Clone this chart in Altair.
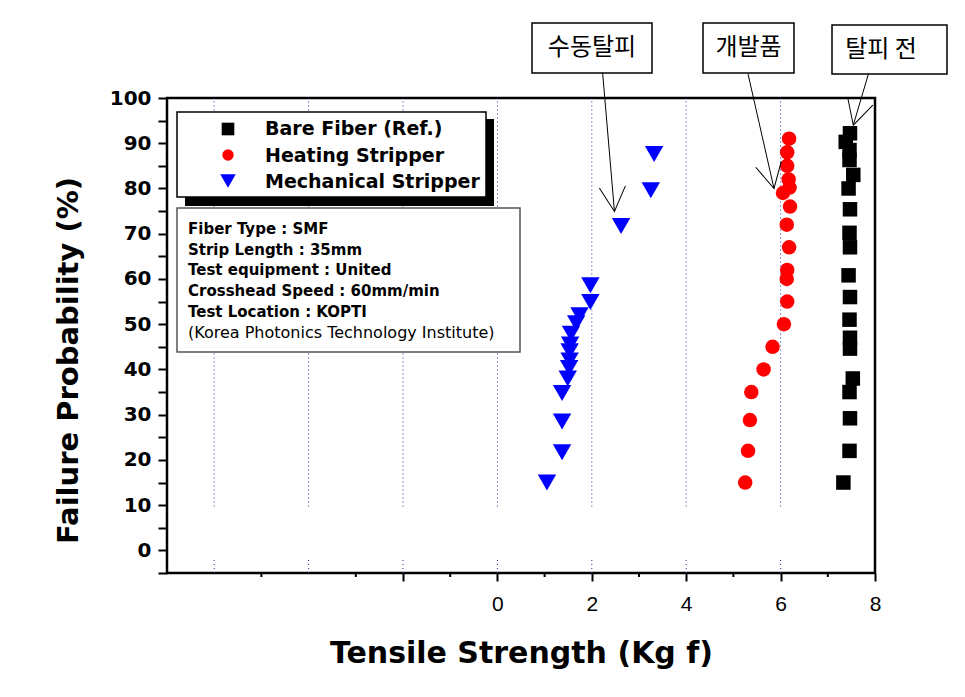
import math
import altair as alt
import pandas as pd

# ---------------- data ----------------
bare_x = [7.33, 7.46, 7.47, 7.46, 7.53, 7.47, 7.47, 7.46, 7.47, 7.44,
          7.47, 7.46, 7.47, 7.44, 7.54, 7.46, 7.46, 7.38, 7.47]
bare_y = [15.0, 22.0, 29.2, 35.0, 38.0, 44.6, 47.0, 51.0, 56.0, 60.8,
          67.0, 70.2, 75.4, 80.0, 83.0, 86.3, 88.5, 90.3, 92.2]

heat_x = [5.25, 5.31, 5.35, 5.38, 5.64, 5.83, 6.07, 6.14, 6.13, 6.14,
          6.18, 6.13, 6.20, 6.05, 6.19, 6.17, 6.14, 6.14, 6.18]
heat_y = [15.0, 22.0, 28.8, 35.0, 40.0, 45.0, 50.0, 55.0, 60.0, 62.0,
          67.0, 72.0, 76.0, 79.0, 80.2, 82.0, 85.0, 88.0, 91.0]

mech_x = [1.05, 1.37, 1.37, 1.37, 1.49, 1.52, 1.53, 1.53, 1.54, 1.56,
          1.67, 1.74, 1.97, 1.97, 2.62, 3.25, 3.32]
mech_y = [15.0, 21.7, 28.5, 34.8, 38.0, 40.3, 42.0, 44.0, 45.5, 47.9,
          50.2, 52.0, 54.9, 58.6, 71.7, 79.6, 87.6]

series_names = ["Bare Fiber (Ref.)", "Heating Stripper", "Mechanical Stripper"]
series_colors = ["#000000", "#ff0000", "#0000ff"]
series_shapes = ["square", "circle", "triangle-down"]

grid_x = [-6, -4, -2, 0, 2, 4, 6]
x_major_ticks = [-2, 0, 2, 4, 6, 8]
x_minor_ticks = [-5, -3, -1, 1, 3, 5, 7]
y_ticks = list(range(-5, 101, 5))

info_lines = ["Fiber Type : SMF", "Strip Length : 35mm", "Test equipment : United",
              "Crosshead Speed : 60mm/min", "Test Location : KOPTI",
              "(Korea Photonics Technology Institute)"]

annot_labels = ["수동탈피", "개발품", "탈피  전"]
annot_tail_x = [2.23, 5.31, 7.86]
annot_tail_y = [105.5, 105.3, 105.3]
annot_tip_x = [2.48, 5.86, 7.54]
annot_tip_y = [74.9, 80.0, 94.0]

# ---------------- layout / style ----------------
W, H = 708, 475
X_DOMAIN = [-7, 8]
Y_DOMAIN = [-5, 100]
BOLD = "DejaVu Sans"

x_scale = alt.Scale(domain=X_DOMAIN, nice=False, zero=False)
y_scale = alt.Scale(domain=Y_DOMAIN, nice=False, zero=False)

x_axis = alt.Axis(
    values=x_major_ticks, labelExpr="datum.value >= 0 ? datum.label : ''",
    labelFont="Liberation Sans", labelFontSize=21, labelColor="black",
    labelPadding=12, labelFlush=False, labelOverlap=False,
    tickSize=8, tickWidth=2, tickColor="black", domain=False, grid=False,
    title="Tensile Strength (Kg f)", titleFont=BOLD, titleFontSize=30,
    titleFontWeight="bold", titleColor="black", titleY=89,
    titleBaseline="alphabetic")

y_axis = alt.Axis(
    values=y_ticks,
    labelExpr="(datum.value >= 0 && datum.value % 10 == 0) ? datum.label : ''",
    labelFont=BOLD, labelFontSize=20, labelFontWeight="bold", labelColor="black",
    labelPadding=7, labelFlush=False, labelOverlap=False,
    tickSize=9, tickWidth=2, tickColor="black", domain=False, grid=False,
    title="Failure Probability (%)", titleFont=BOLD, titleFontSize=29,
    titleFontWeight="bold", titleColor="black", titleAngle=270,
    titleX=-90, titleY=262, titleBaseline="alphabetic", titleAlign="center")


def X(field):
    return alt.X(field, type="quantitative", scale=x_scale, axis=x_axis)


def Y(field):
    return alt.Y(field, type="quantitative", scale=y_scale, axis=y_axis)


dummy = pd.DataFrame({"d": [0]})
layers = []

# gridlines (interrupted by the white band near the bottom)
grid_rows = []
for gx in grid_x:
    grid_rows.append({"gx": gx, "y0": 9.7, "y1": 100})
    grid_rows.append({"gx": gx, "y0": -5, "y1": -2.1})
grid_df = pd.DataFrame(grid_rows)
layers.append(
    alt.Chart(grid_df).mark_rule(color="#2c2ca8", strokeWidth=1, strokeDash=[1, 3])
    .encode(x=X("gx"), y=Y("y0"), y2="y1"))

# minor x ticks
minor_df = pd.DataFrame({"mx": x_minor_ticks})
layers.append(
    alt.Chart(minor_df).mark_rule(color="black", strokeWidth=2)
    .encode(x=X("mx"), y=alt.value(H), y2=alt.value(H + 4)))

# data points
for xs, ys, name, col, shp, size in zip(
        [bare_x, heat_x, mech_x], [bare_y, heat_y, mech_y],
        series_names, series_colors, series_shapes, [210, 210, 340]):
    df = pd.DataFrame({"x": xs, "y": ys, "series": name})
    layers.append(
        alt.Chart(df).mark_point(shape=shp, filled=True, size=size, color=col,
                                 opacity=1, strokeWidth=0)
        .encode(x=X("x"), y=Y("y")))

# legend box with shadow
layers.append(alt.Chart(dummy).mark_rect(color="black").encode(
    x=alt.value(18), x2=alt.value(327), y=alt.value(21), y2=alt.value(108)))
layers.append(alt.Chart(dummy).mark_rect(fill="white", stroke="black", strokeWidth=1.5).encode(
    x=alt.value(10), x2=alt.value(319), y=alt.value(14), y2=alt.value(99)))
leg_sym_y = [31, 57, 83]
leg_txt_y = [37, 63.5, 89.5]
leg_sizes = [160, 130, 240]
for i, name in enumerate(series_names):
    layers.append(alt.Chart(dummy).mark_point(
        shape=series_shapes[i], filled=True, size=leg_sizes[i], color=series_colors[i],
        opacity=1, strokeWidth=0).encode(x=alt.value(61), y=alt.value(leg_sym_y[i])))
    layers.append(alt.Chart(dummy).mark_text(
        text=name, font=BOLD, fontSize=19, fontWeight="bold", color="black",
        align="left", baseline="alphabetic").encode(
        x=alt.value(98), y=alt.value(leg_txt_y[i])))

# info box
layers.append(alt.Chart(dummy).mark_rect(fill="white", stroke="#555555", strokeWidth=1.5).encode(
    x=alt.value(10), x2=alt.value(353), y=alt.value(110), y2=alt.value(254)))
for i, line in enumerate(info_lines):
    last = i == len(info_lines) - 1
    layers.append(alt.Chart(dummy).mark_text(
        text=line, font=BOLD, fontSize=16 if last else 15,
        fontWeight="normal" if last else "bold", color="black",
        align="left", baseline="alphabetic").encode(
        x=alt.value(21), y=alt.value(136 + 20.7 * i)))

# annotation arrows (shaft + open arrow head aimed along the shaft)
px_x = W / (X_DOMAIN[1] - X_DOMAIN[0])
px_y = H / (Y_DOMAIN[1] - Y_DOMAIN[0])
angles = []
for tx, ty, hx, hy in zip(annot_tail_x, annot_tail_y, annot_tip_x, annot_tip_y):
    dx = (hx - tx) * px_x
    dy = (ty - hy) * px_y
    angles.append((-math.degrees(math.atan2(dx, dy))) % 360)
arrow_df = pd.DataFrame({"label": annot_labels, "tail_x": annot_tail_x, "tail_y": annot_tail_y,
                         "tip_x": annot_tip_x, "tip_y": annot_tip_y, "angle": angles})
layers.append(alt.Chart(arrow_df).mark_rule(color="black", strokeWidth=1).encode(
    x=X("tail_x"), y=Y("tail_y"), x2="tip_x", y2="tip_y"))
layers.append(alt.Chart(arrow_df).mark_point(
    shape="M-0.53,-1L0,0L0.53,-1", size=2440, filled=False, color="black",
    strokeWidth=1, opacity=1).encode(
    x=X("tip_x"), y=Y("tip_y"), angle=alt.Angle("angle:Q", scale=None)))

# annotation boxes
box_px = [(365, 485, -75, -25), (536, 627, -75, -25), (665, 780, -73, -24)]
txt_px = [(425, -50), (581.5, -50), (714, -48.5)]
for lab, (bx0, bx1, by0, by1), (tx, ty) in zip(annot_labels, box_px, txt_px):
    layers.append(alt.Chart(dummy).mark_rect(fill="white", stroke="black", strokeWidth=1.5).encode(
        x=alt.value(bx0), x2=alt.value(bx1), y=alt.value(by0), y2=alt.value(by1)))
    layers.append(alt.Chart(dummy).mark_text(
        text=lab, font="Noto Sans CJK KR", fontSize=24, color="black",
        align="center", baseline="middle").encode(x=alt.value(tx), y=alt.value(ty)))

chart = alt.layer(*layers).properties(
    width=W, height=H,
    padding={"left": 159, "top": 90, "right": 75, "bottom": 100},
    autosize=alt.AutoSizeParams(type="none"),
    background="white",
).configure_view(stroke="black", strokeWidth=2.5)

chart.save("out.html", embed_options={"renderer": "svg", "actions": False})
